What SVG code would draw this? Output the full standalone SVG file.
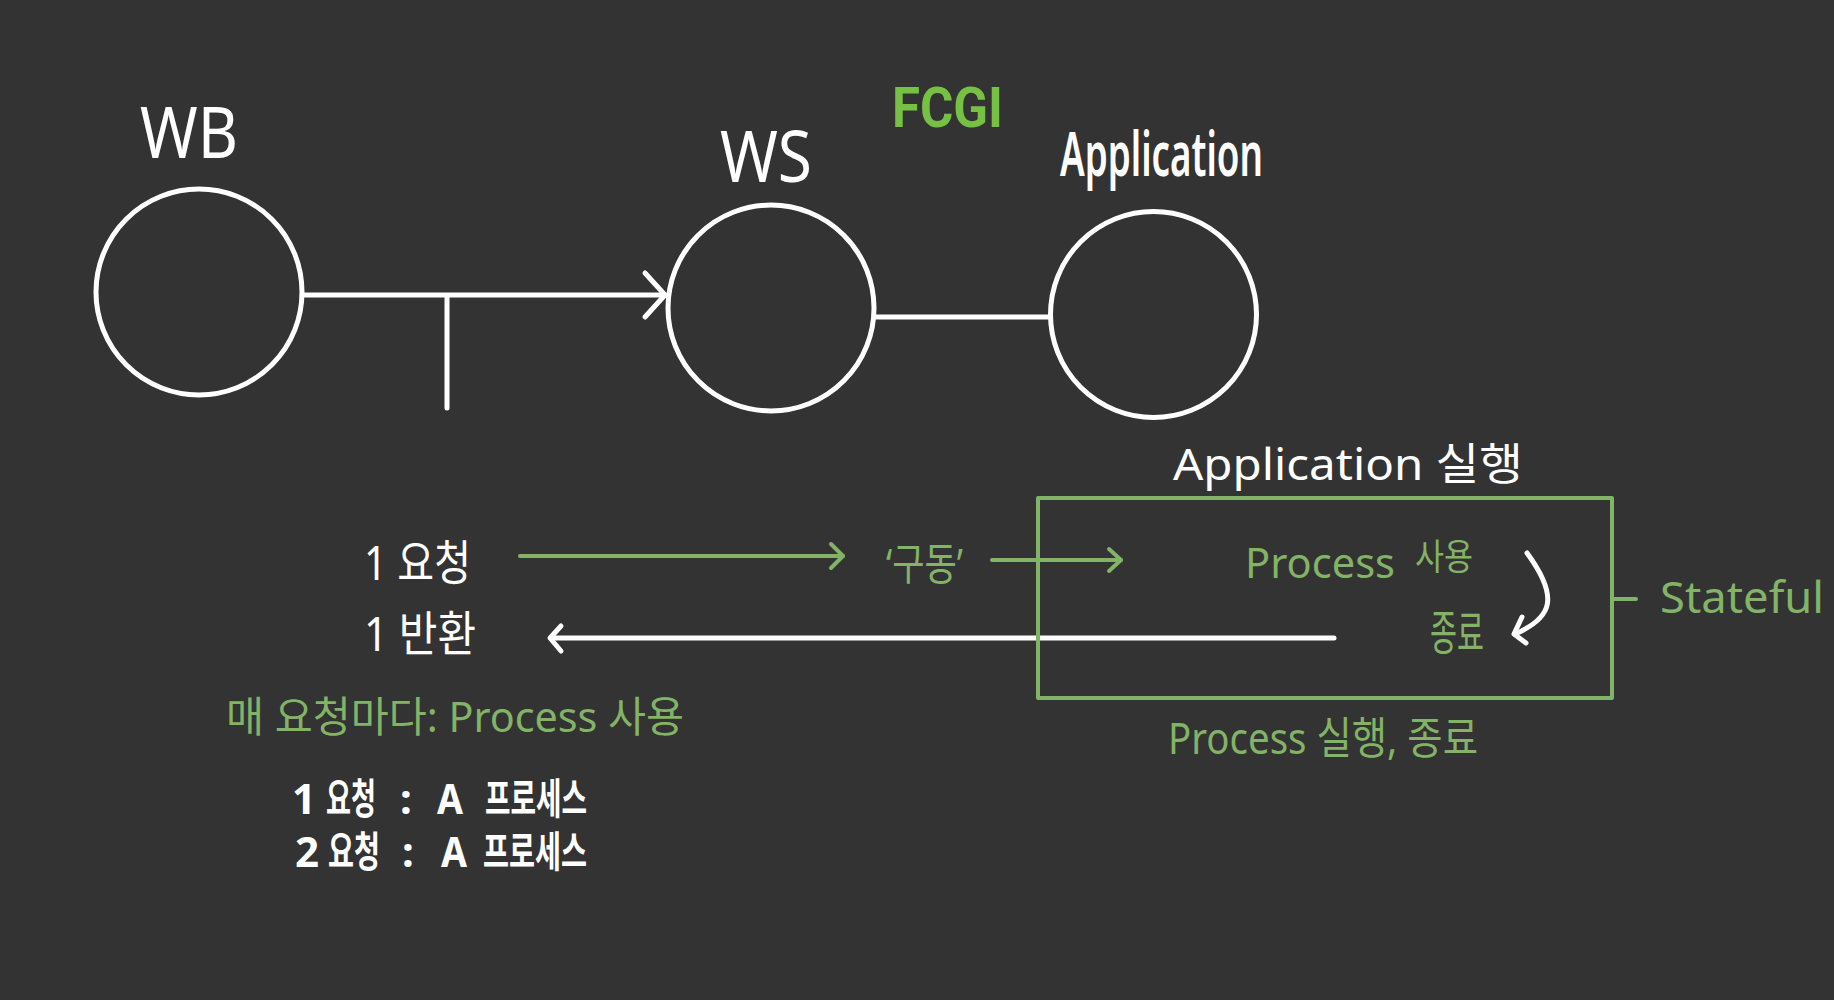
<svg xmlns="http://www.w3.org/2000/svg" width="1834" height="1000" viewBox="0 0 1834 1000">
<defs>
<style>
.node{fill:none;stroke:#ffffff;stroke-width:5}
.w{fill:none;stroke:#ffffff;stroke-width:5;stroke-linecap:round;stroke-linejoin:round}
.g{fill:none;stroke:#82b366;stroke-width:4;stroke-linecap:round;stroke-linejoin:round}
.t{font-family:"Noto Sans","Noto Sans CJK KR",sans-serif;fill:#ffffff}
.tg{font-family:"Noto Sans","Noto Sans CJK KR",sans-serif;fill:#82b366}
</style>
</defs>
<rect width="1834" height="1000" fill="#333333"/>
<g id="connectors">
<line class="w" x1="304" y1="295" x2="665" y2="295"/>
<polyline class="w" points="645,273 665,295 645,317"/>
<line class="w" x1="447" y1="297" x2="447" y2="408"/>
<line class="w" x1="875" y1="317" x2="1049" y2="317"/>
<line class="g" x1="520" y1="556" x2="843" y2="556"/>
<polyline class="g" points="831,544 843,556 831,568"/>
<line class="g" x1="992" y1="560" x2="1121" y2="560"/>
<polyline class="g" points="1109,549 1121,560 1109,571"/>
<line class="w" x1="1334" y1="638" x2="552" y2="638" stroke-width="4"/>
<polyline class="w" points="561,626 550,638 561,651" stroke-width="4"/>
<path class="w" d="M1527,553 C1560,598 1552,618 1515,634" stroke-width="4"/>
<polyline class="w" points="1522,617 1514,634 1526,643" stroke-width="4"/>
<line class="g" x1="1612" y1="599" x2="1636" y2="599" stroke-width="5"/>
</g>
<g id="node-wb">
<circle class="node" cx="199" cy="292" r="103"/>
<text class="t" x="140" y="158" font-size="72" textLength="98" lengthAdjust="spacingAndGlyphs">WB</text>
</g>
<g id="node-ws">
<circle class="node" cx="771" cy="308" r="103"/>
<text class="t" x="720" y="182" font-size="72" textLength="92" lengthAdjust="spacingAndGlyphs">WS</text>
</g>
<g id="node-app">
<circle class="node" cx="1153.5" cy="314.5" r="103"/>
<text class="t" x="1060" y="176" font-size="62" font-weight="600" textLength="203" lengthAdjust="spacingAndGlyphs">Application</text>
</g>
<text x="892" y="127" font-family="Roboto, 'Liberation Sans', sans-serif" font-weight="bold" font-size="55" fill="#76c043" textLength="111" lengthAdjust="spacingAndGlyphs">FCGI</text>
<g id="node-box">
<rect class="g" x="1038" y="498" width="574" height="200" stroke-width="4"/>
<text class="tg" x="1245" y="578" font-size="42"><tspan textLength="150" lengthAdjust="spacingAndGlyphs">Process</tspan><tspan x="1415" y="570" font-size="36" textLength="58" lengthAdjust="spacingAndGlyphs">사용</tspan></text>
<text class="tg" x="1430" y="650" font-size="48" textLength="54" lengthAdjust="spacingAndGlyphs">종료</text>
</g>
<text class="t" x="1173" y="480" font-size="44" textLength="350" lengthAdjust="spacingAndGlyphs">Application 실행</text>
<text class="tg" x="1660" y="613" font-size="44" textLength="164" lengthAdjust="spacingAndGlyphs">Stateful</text>
<text class="tg" x="1168" y="754" font-size="44" textLength="310" lengthAdjust="spacingAndGlyphs">Process 실행, 종료</text>
<text class="t" x="364" y="580" font-size="48" textLength="107" lengthAdjust="spacingAndGlyphs">1 요청</text>
<text class="t" x="364" y="651" font-size="48" textLength="112" lengthAdjust="spacingAndGlyphs">1 반환</text>
<text class="tg" x="886" y="580" font-size="44" textLength="77" lengthAdjust="spacingAndGlyphs">‘구동’</text>
<text class="tg" x="226" y="732" font-size="42" textLength="458" lengthAdjust="spacingAndGlyphs">매 요청마다: Process 사용</text>
<text class="t" y="814" font-size="42" font-weight="bold"><tspan x="292">1</tspan><tspan x="326" textLength="50" lengthAdjust="spacingAndGlyphs">요청</tspan><tspan x="400">:</tspan><tspan x="437" textLength="26" lengthAdjust="spacingAndGlyphs">A</tspan><tspan x="485" textLength="102" lengthAdjust="spacingAndGlyphs">프로세스</tspan></text>
<text class="t" y="867" font-size="42" font-weight="bold"><tspan x="295">2</tspan><tspan x="328" textLength="52" lengthAdjust="spacingAndGlyphs">요청</tspan><tspan x="402">:</tspan><tspan x="441" textLength="26" lengthAdjust="spacingAndGlyphs">A</tspan><tspan x="483" textLength="104" lengthAdjust="spacingAndGlyphs">프로세스</tspan></text>
</svg>
